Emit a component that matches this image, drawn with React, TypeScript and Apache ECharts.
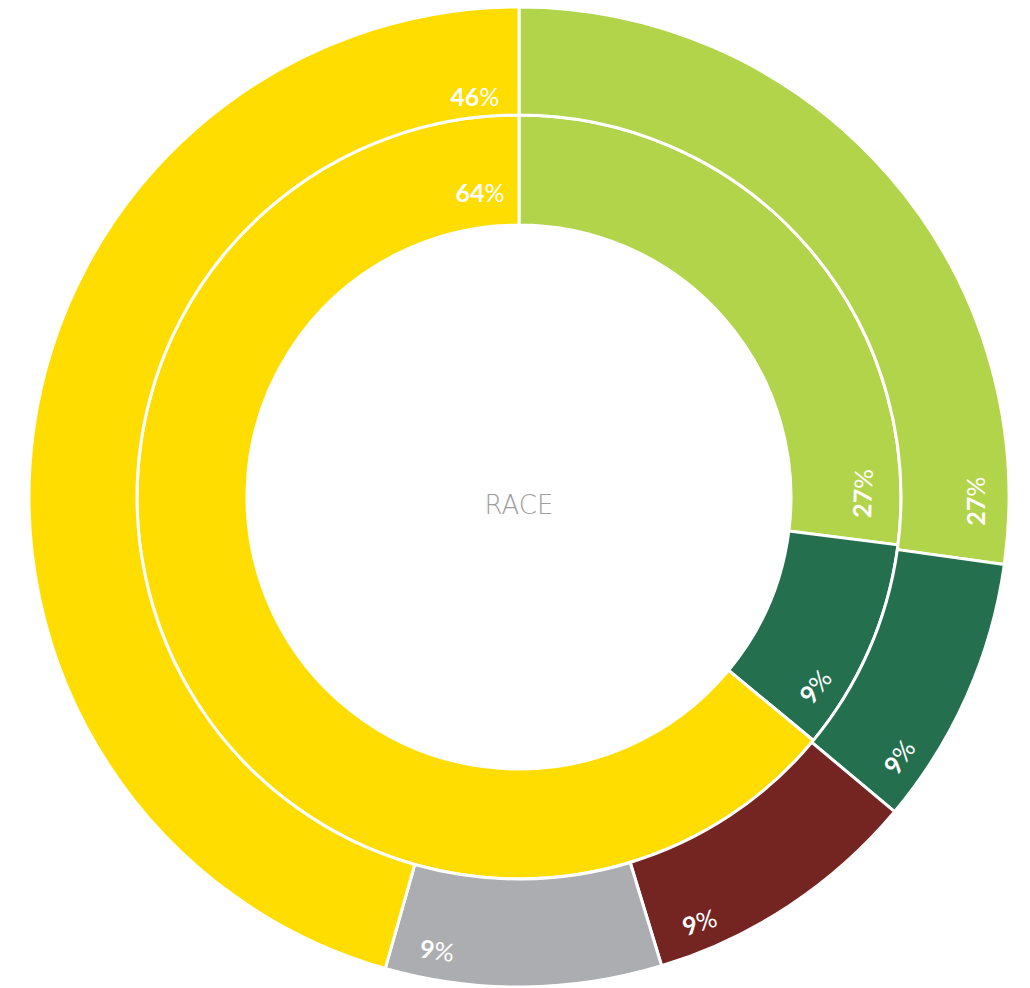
import { useEffect, useRef } from 'react';
import * as echarts from 'echarts';

// ---- data ----
const outerNames = ['Green', 'Dark green', 'Dark red', 'Gray', 'Yellow'];
const outerValues = [27.2, 8.9, 9.2, 9.1, 45.6];
const innerNames = ['Green', 'Dark green', 'Yellow'];
const innerValues = [27, 9, 64];
const centerTitle = 'RACE';

// ---- styles ----
const outerColors = ['#B2D44B', '#236F4E', '#742522', '#ACADB0', '#FFDD00'];
const innerColors = ['#B2D44B', '#236F4E', '#FFDD00'];
// label placement per slice: [degrees before slice end, radius px, rotation deg]
const outerLabelPlacement = [
  [7.4, 456, 90],
  [5.6, 460, 55],
  [6.1, 461, 18],
  [5.6, 460, -8],
  [6.3, 403, 0],
];
const innerLabelPlacement = [
  [7.8, 343, 88],
  [7.0, 351, 52],
  [7.3, 307, 0],
];
const CX = 519;
const CY = 497;

function makeLabelLayout(values: number[], placement: number[][]) {
  const total = values.reduce((a, b) => a + b, 0);
  return (params: any) => {
    const i = params.dataIndex;
    let cum = 0;
    for (let k = 0; k <= i; k++) cum += values[k];
    const end = (cum / total) * 360;
    const [off, r, rot] = placement[i];
    const a = ((end - off) * Math.PI) / 180;
    return {
      x: CX + r * Math.sin(a),
      y: CY - r * Math.cos(a),
      rotate: rot,
      align: 'center',
      verticalAlign: 'middle',
    };
  };
}

const labelStyle = {
  show: true,
  position: 'inside',
  formatter: (p: any) => `{n|${Math.round(p.value)}}{s|%}`,
  rich: {
    n: { fontFamily: 'Lato', fontWeight: 'bold', fontSize: 25, color: '#ffffff' },
    s: { fontFamily: 'Lato', fontWeight: 'normal', fontSize: 25, color: '#ffffff' },
  },
};

export default function App() {
  const ref = useRef<HTMLDivElement>(null);
  useEffect(() => {
    document.body.style.margin = '0';
    document.body.style.overflow = 'hidden';
    if (!ref.current) return;
    const chart = echarts.init(ref.current, null, { renderer: 'svg' });
    chart.setOption({
      animation: false,
      backgroundColor: '#ffffff',
      graphic: [
        {
          type: 'text',
          silent: true,
          style: {
            text: centerTitle,
            x: CX,
            y: 505,
            textAlign: 'center',
            textVerticalAlign: 'middle',
            fill: '#9e9e9e',
            font: '200 26px "DejaVu Sans", Lato, sans-serif',
          },
        },
      ],
      series: [
        {
          type: 'pie',
          name: 'inner',
          center: [CX, CY],
          radius: [272, 382],
          startAngle: 90,
          clockwise: true,
          silent: true,
          avoidLabelOverlap: false,
          emphasis: { disabled: true },
          itemStyle: { borderColor: '#ffffff', borderWidth: 3 },
          label: labelStyle,
          labelLine: { show: false },
          labelLayout: makeLabelLayout(innerValues, innerLabelPlacement),
          data: innerValues.map((v, i) => ({
            name: innerNames[i],
            value: v,
            itemStyle: { color: innerColors[i] },
          })),
        },
        {
          type: 'pie',
          name: 'outer',
          center: [CX, CY],
          radius: [382, 490],
          startAngle: 90,
          clockwise: true,
          silent: true,
          avoidLabelOverlap: false,
          emphasis: { disabled: true },
          itemStyle: { borderColor: '#ffffff', borderWidth: 3 },
          label: labelStyle,
          labelLine: { show: false },
          labelLayout: makeLabelLayout(outerValues, outerLabelPlacement),
          data: outerValues.map((v, i) => ({
            name: outerNames[i],
            value: v,
            itemStyle: { color: outerColors[i] },
          })),
        },
      ],
    });
    return () => chart.dispose();
  }, []);
  return <div ref={ref} style={{ width: 1030, height: 988 }} />;
}
